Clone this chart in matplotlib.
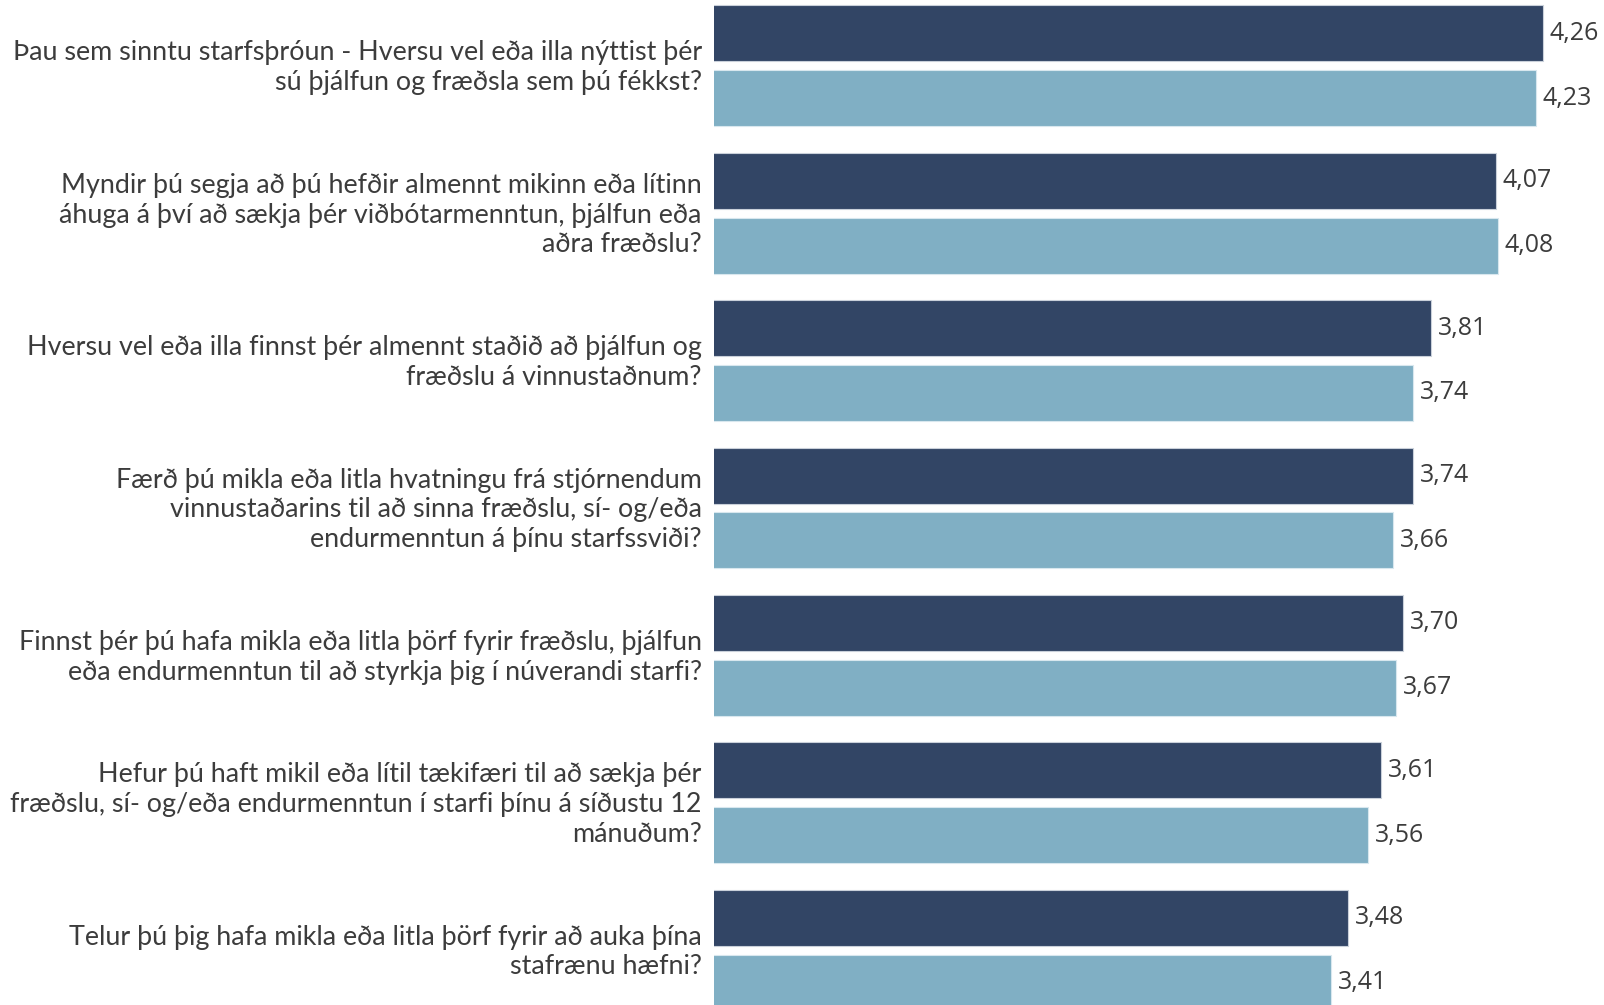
import matplotlib
matplotlib.use("Agg")
import matplotlib.pyplot as plt
import matplotlib.transforms as mtransforms
import numpy as np

categories = [
    "Þau sem sinntu starfsþróun - Hversu vel eða illa nýttist þér\nsú þjálfun og fræðsla sem þú fékkst?",
    "Myndir þú segja að þú hefðir almennt mikinn eða lítinn\náhuga á því að sækja þér viðbótarmenntun, þjálfun eða\naðra fræðslu?",
    "Hversu vel eða illa finnst þér almennt staðið að þjálfun og\nfræðslu á vinnustaðnum?",
    "Færð þú mikla eða litla hvatningu frá stjórnendum\nvinnustaðarins til að sinna fræðslu, sí- og/eða\nendurmenntun á þínu starfssviði?",
    "Finnst þér þú hafa mikla eða litla þörf fyrir fræðslu, þjálfun\neða endurmenntun til að styrkja þig í núverandi starfi?",
    "Hefur þú haft mikil eða lítil tækifæri til að sækja þér\nfræðslu, sí- og/eða endurmenntun í starfi þínu á síðustu 12\nmánuðum?",
    "Telur þú þig hafa mikla eða litla þörf fyrir að auka þína\nstafrænu hæfni?",
]
series_dark = [4.26, 4.07, 3.81, 3.74, 3.70, 3.61, 3.48]
series_light = [4.23, 4.08, 3.74, 3.66, 3.67, 3.56, 3.41]

DARK = "#324565"
LIGHT = "#80afc4"
TXT = "#3c3c3c"

fig = plt.figure(figsize=(16.04, 10.05), dpi=100)
ax = fig.add_axes([714 / 1604, 0, 1 - 714 / 1604, 1])

y = np.arange(len(categories))
off = 0.22
h = 0.38
b1 = ax.barh(y - off, series_dark, height=h, color=DARK, edgecolor="#c9d0da", linewidth=0.8)
b2 = ax.barh(y + off, series_light, height=h, color=LIGHT, edgecolor="#d8e7ee", linewidth=0.8)

for bars, vals in ((b1, series_dark), (b2, series_light)):
    for rect, v in zip(bars, vals):
        ax.annotate(f"{v:.2f}".replace(".", ","),
                    xy=(v, rect.get_y() + rect.get_height() / 2),
                    xytext=(5, 0), textcoords="offset points",
                    ha="left", va="center", fontsize=18, color=TXT,
                    family="Open Sans")

ax.set_xlim(0.944, 4.504)
ax.set_ylim(6.372, -0.446)
ax.set_yticks(y)
ax.set_yticklabels(categories, fontsize=19.4, color=TXT, family="Lato",
                   linespacing=1.24)
ax.tick_params(axis="y", length=0, pad=8.8)
shift = mtransforms.ScaledTranslation(0, 3 / 100, fig.dpi_scale_trans)
for lbl in ax.get_yticklabels():
    lbl.set_transform(lbl.get_transform() + shift)
ax.set_xticks([])
for s in ax.spines.values():
    s.set_visible(False)

fig.savefig("out.png", dpi=100)
